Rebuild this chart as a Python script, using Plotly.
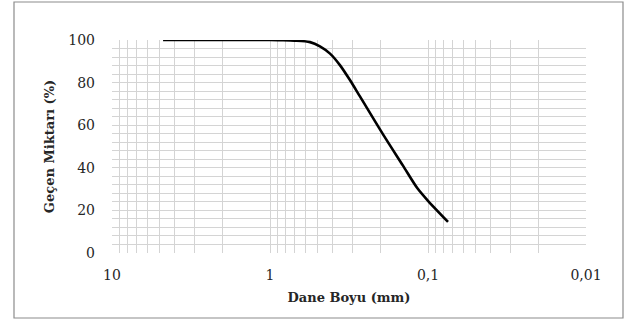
import plotly.graph_objects as go

# Data (grain size in mm, percent passing)
sizes = [4.75, 2.0, 1.0, 0.865, 0.7, 0.558, 0.483, 0.417, 0.360, 0.312, 0.269,
         0.193, 0.144, 0.117, 0.100, 0.0747]
passing = [100, 100, 100, 99.9, 99.7, 99.0, 97.0, 93.6, 88.1, 81.2, 73.4,
           55.8, 41.0, 30.5, 24.5, 14.6]
x_major_vals = [10, 1, 0.1, 0.01]
x_major_text = ["10", "1", "0,1", "0,01"]
y_tick_vals = [0, 20, 40, 60, 80, 100]

# gridline positions (log minor lines 1..9 per decade)
grid_vals = []
for dec in [1, 0.1, 0.01]:
    for m in range(1, 10):
        grid_vals.append(m * dec)
grid_vals.append(10)
grid_vals = sorted(set(round(v, 6) for v in grid_vals))
lab = {round(v, 6): t for v, t in zip(x_major_vals, x_major_text)}
grid_text = [lab.get(v, "") for v in grid_vals]

W, H = 627, 322
L, R, T, B = 112, 41, 40, 69
pw, ph = W - L - R, H - T - B

font_family = "DejaVu Serif, Liberation Serif, serif"
txt = "#262626"
grid = "#d4d4d4"

fig = go.Figure()
fig.add_trace(go.Scatter(
    x=sizes, y=passing, mode="lines",
    line=dict(color="black", width=2.6, shape="spline", smoothing=0.8),
    showlegend=False, hoverinfo="skip"))

fig.update_layout(
    width=W, height=H,
    margin=dict(l=L, r=R, t=T, b=B),
    paper_bgcolor="white", plot_bgcolor="white",
    font=dict(family=font_family, size=14, color=txt),
    xaxis=dict(
        type="log", range=[1, -2], autorange=False,
        tickmode="array", tickvals=grid_vals, ticktext=grid_text,
        showgrid=True, gridcolor=grid, gridwidth=1,
        zeroline=False, showline=False, ticks="",
        tickfont=dict(size=14, color=txt),
        ticklabelstandoff=12,
        title=dict(text="<b>Dane Boyu (mm)</b>", font=dict(size=13, color=txt), standoff=10),
    ),
    yaxis=dict(
        range=[0, 100], autorange=False,
        tickmode="array", tickvals=y_tick_vals,
        showgrid=True, gridcolor=grid, gridwidth=1,
        minor=dict(dtick=4, showgrid=True, gridcolor=grid, gridwidth=1, ticks=""),
        zeroline=False, showline=False, ticks="",
        tickfont=dict(size=14, color=txt),
        ticklabelstandoff=16,
        title=dict(text="<b>Geçen Miktarı (%)</b>", font=dict(size=13, color=txt), standoff=10),
    ),
)

# Outer chart border
bx0, bx1, by0, by1 = 14, 623, 2, 318
fig.add_shape(type="rect", xref="paper", yref="paper",
              x0=(bx0 - L) / pw, x1=(bx1 - L) / pw,
              y0=(H - B - by1) / ph, y1=(H - B - by0) / ph,
              line=dict(color="#8c8c8c", width=1.2), fillcolor="rgba(0,0,0,0)", layer="below")

fig.write_html("out.html")
